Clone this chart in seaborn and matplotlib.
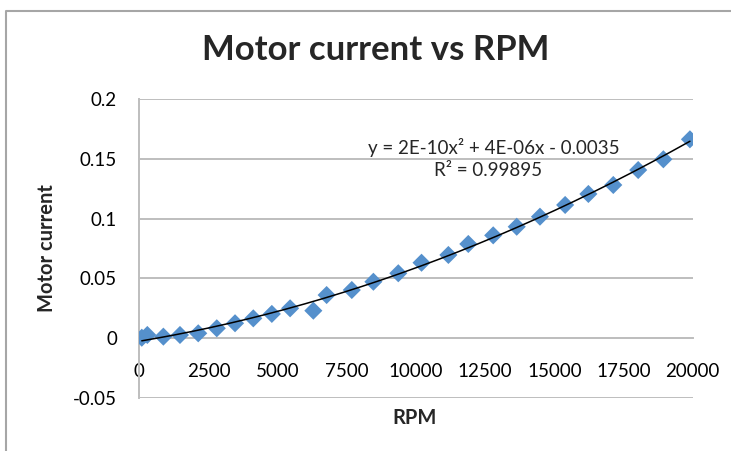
import numpy as np
import pandas as pd
import matplotlib
matplotlib.use("Agg")
import matplotlib.pyplot as plt
from matplotlib.lines import Line2D
import seaborn as sns

rpm = [90, 290, 870, 1470, 2130, 2800, 3460, 4120, 4790, 5450, 6290, 6770,
       7680, 8460, 9360, 10200, 11170, 11890, 12790, 13640, 14480, 15390,
       16230, 17130, 18030, 18940, 19900]
current = [0.0004, 0.0027, 0.0013, 0.0027, 0.0041, 0.0083, 0.0125, 0.0166,
           0.0203, 0.0250, 0.0230, 0.0361, 0.0403, 0.0472, 0.0543, 0.0631,
           0.0696, 0.0788, 0.0860, 0.0932, 0.1016, 0.1114, 0.1206, 0.1281,
           0.1406, 0.1496, 0.1663]
x_ticks = [0, 2500, 5000, 7500, 10000, 12500, 15000, 17500, 20000]
y_ticks = [-0.05, 0, 0.05, 0.1, 0.15, 0.2]
y_tick_labels = ["-0.05", "0", "0.05", "0.1", "0.15", "0.2"]
title = "Motor current vs RPM"
x_label = "RPM"
y_label = "Motor current"
eq_text = "y = 2E-10x\u00b2 + 4E-06x - 0.0035"
r2_text = "R\u00b2 = 0.99895"

df = pd.DataFrame({"RPM": rpm, "Motor current": current})

sns.set_theme(style="white")
plt.rcParams["font.family"] = ["Lato", "DejaVu Sans"]

fig = plt.figure(figsize=(7.31, 4.51), dpi=100)
ax = fig.add_axes([139.3 / 731, 1 - 398 / 451, (692.7 - 139.3) / 731, (398 - 99) / 451])

grid_c = "#BEBEBE"
sns.scatterplot(data=df, x="RPM", y="Motor current", ax=ax, marker="D",
                s=85, color="#5590CC", edgecolor="none", linewidth=0, zorder=3)

# polynomial (order 2) trendline fitted to the data
coef = np.polyfit(df["RPM"], df["Motor current"], 2)
xs = np.linspace(min(rpm), max(rpm), 200)
sns.lineplot(x=xs, y=np.polyval(coef, xs), ax=ax, color="black", linewidth=1.1, zorder=4)

ax.set_xlim(0, 20000)
ax.set_ylim(-0.05, 0.2)
ax.set_xticks(x_ticks)
ax.set_xticklabels([str(t) for t in x_ticks])
ax.set_yticks(y_ticks)
ax.set_yticklabels(y_tick_labels)
ax.yaxis.grid(True, color=grid_c, linewidth=1.4)
ax.xaxis.grid(False)
ax.set_axisbelow(True)

for s in ["top", "right"]:
    ax.spines[s].set_visible(False)
ax.spines["left"].set_color(grid_c)
ax.spines["left"].set_linewidth(1.4)
ax.spines["bottom"].set_position(("data", 0))
ax.spines["bottom"].set_color(grid_c)
ax.spines["bottom"].set_linewidth(1.4)

ax.tick_params(axis="x", length=0, pad=18, labelsize=13.5, colors="black")
ax.tick_params(axis="y", length=0, pad=16, labelsize=13.5, colors="black")

ax.set_xlabel("")
ax.set_ylabel("")
fig.text(415 / 731, 1 - 418 / 451, x_label, ha="center", va="center",
         fontsize=14.5, fontweight="bold")
fig.text(47 / 731, 1 - 248 / 451, y_label, ha="center", va="center",
         fontsize=14.5, fontweight="bold", rotation=90)
fig.text(376 / 731, 1 - 50 / 451, title, ha="center", va="center",
         fontsize=25, fontweight="bold")

ax.text(0.640, 0.839, eq_text, transform=ax.transAxes, ha="center", va="center", fontsize=13.5)
ax.text(0.631, 0.7625, r2_text, transform=ax.transAxes, ha="center", va="center", fontsize=13.5)

# chart outer border (partially visible)
border = Line2D([5.5 / 731, 5.5 / 731, 1.0], [0.0, 1 - 11 / 451, 1 - 11 / 451],
                transform=fig.transFigure, color="#A6A6A6", linewidth=1.5)
fig.add_artist(border)

fig.savefig("out.png", dpi=100, facecolor="white")
